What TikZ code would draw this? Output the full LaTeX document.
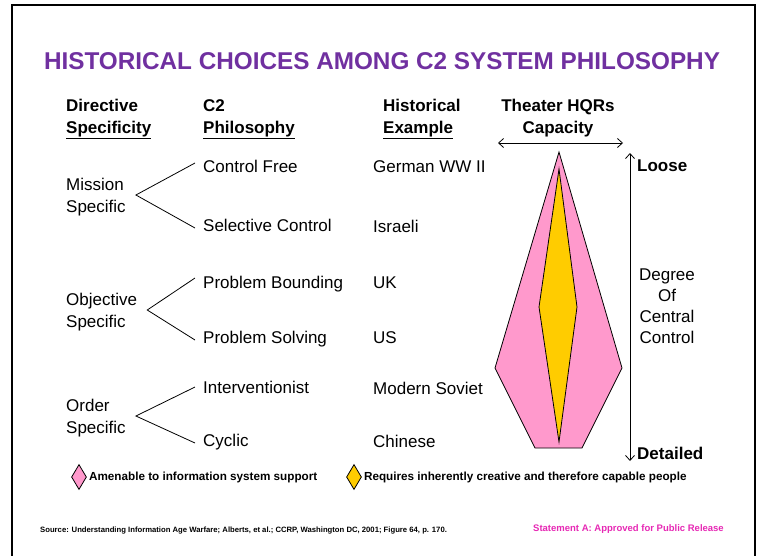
\documentclass[tikz,border=0pt]{standalone}
\usepackage{fontspec}
\setmainfont{Liberation Sans}
\usepackage{xcolor}
\usetikzlibrary{shapes.geometric,arrows.meta,positioning}

\definecolor{titlepurple}{RGB}{112,48,160}
\definecolor{pinkfill}{RGB}{255,153,204}
\definecolor{goldfill}{RGB}{255,204,0}
\definecolor{notepink}{RGB}{230,40,180}

\tikzset{
  lbl/.style={inner sep=0pt, anchor=west, align=left, font=\fontsize{17}{22}\selectfont},
  one/.style={lbl, text height=12.5pt, text depth=3.5pt},
  hdr/.style={lbl, font=\bfseries\fontsize{17}{22}\selectfont},
  branch/.style={line width=0.8pt},
  keybox/.style={diamond, draw, line width=0.8pt, minimum width=15pt, minimum height=25pt, inner sep=0pt},
  keytext/.style={inner sep=0pt, font=\bfseries\fontsize{11.7}{14}\selectfont},
}

\begin{document}
\begin{tikzpicture}[x=1pt,y=-1pt]
  \useasboundingbox (0,0) rectangle (757,555);
  % frame
  \draw[line width=2pt] (12,556) -- (12,5) -- (755,5) -- (755,556);

  \node[inner sep=0pt, text=titlepurple, font=\bfseries\fontsize{24.3}{28}\selectfont] (title) at (382,61)
    {HISTORICAL CHOICES AMONG C2 SYSTEM PHILOSOPHY};

  % column heads
  \node[hdr] (dirhead) at (66,119) {Directive\\\underline{Specificity}};
  \node[hdr] (c2head) at (203,119) {C2\\\underline{Philosophy}};
  \node[hdr] (histhead) at (383,119) {Historical\\\underline{Example}};
  \node[hdr, anchor=center, align=center] (caphead) at (558,118) {Theater HQRs\\Capacity};

  % directive specificity
  \node[lbl] (mission) at (66,197) {Mission\\Specific};
  \node[lbl] (objective) at (66,312) {Objective\\Specific};
  \node[lbl] (order) at (66,418) {Order\\Specific};

  % c2 philosophy
  \node[one] (free) at (203,168) {Control Free};
  \node[one] (selective) at (203,227) {Selective Control};
  \node[one] (bounding) at (203,284) {Problem Bounding};
  \node[one] (solving) at (203,339) {Problem Solving};
  \node[one] (interv) at (203,389) {Interventionist};
  \node[one] (cyclic) at (203,442) {Cyclic};

  % historical example
  \node[one] (german) at (373,168) {German WW II};
  \node[one] (israeli) at (373,228) {Israeli};
  \node[one] (uk) at (373,284) {UK};
  \node[one] (us) at (373,339) {US};
  \node[one] (soviet) at (373,390) {Modern Soviet};
  \node[one] (chinese) at (373,443) {Chinese};

  \draw[branch] ([shift={(-8,-5)}]free.west) -- ([shift={(10,-2)}]mission.east) -- ([shift={(-8,1)}]selective.west);
  \draw[branch] ([shift={(-8,-6)}]bounding.west) -- ([shift={(10,-2)}]objective.east) -- ([shift={(-8,1)}]solving.west);
  \draw[branch] ([shift={(-8,-2)}]interv.west) -- ([shift={(10,-2)}]order.east) -- ([shift={(-8,1)}]cyclic.west);

  % capacity shapes
  \draw[fill=pinkfill, line width=0.8pt] (559,152) -- (622,368) -- (582,448) -- (535,448) -- (495,368) -- cycle;
  \draw[fill=goldfill, line width=0.8pt] (559,169) -- (577,307) -- (559,442) -- (539,307) -- cycle;

  \coordinate (capleft) at (498,143);
  \coordinate (capright) at (623,143);
  \coordinate (looseend) at (630,153);
  \coordinate (detailend) at (630,461);
  \path[{Straight Barb[length=5pt,width=9pt]}-{Straight Barb[length=5pt,width=9pt]}, line width=0.8pt]
  (capleft) edge (capright)
  (looseend) edge (detailend)
  ;

  \node[one, font=\bfseries\fontsize{17}{22}\selectfont] (loose) at (637,167) {Loose};
  \node[one, font=\bfseries\fontsize{17}{22}\selectfont] (detailed) at (637,455) {Detailed};
  \node[lbl, anchor=center, align=center, font=\fontsize{17}{21}\selectfont] (degree) at (667,306)
    {Degree\\Of\\Central\\Control};

  % legend
  \node[keybox, fill=pinkfill] (keypink) at (79,477) {};
  \node[keytext, right=2pt of keypink] (keypinktext) {Amenable to information system support};
  \node[keybox, fill=goldfill] (keygold) at (354,477) {};
  \node[keytext, right=2pt of keygold] (keygoldtext) {Requires inherently creative and therefore capable people};

  \node[inner sep=0pt, anchor=west, font=\bfseries\fontsize{7.7}{10}\selectfont] (source) at (40,531)
    {Source: Understanding Information Age Warfare; Alberts, et al.; CCRP, Washington DC, 2001; Figure 64, p. 170.};
  \node[inner sep=0pt, anchor=west, text=notepink, font=\bfseries\fontsize{9.5}{11}\selectfont] (release) at (533,529)
    {Statement A: Approved for Public Release};
\end{tikzpicture}
\end{document}
